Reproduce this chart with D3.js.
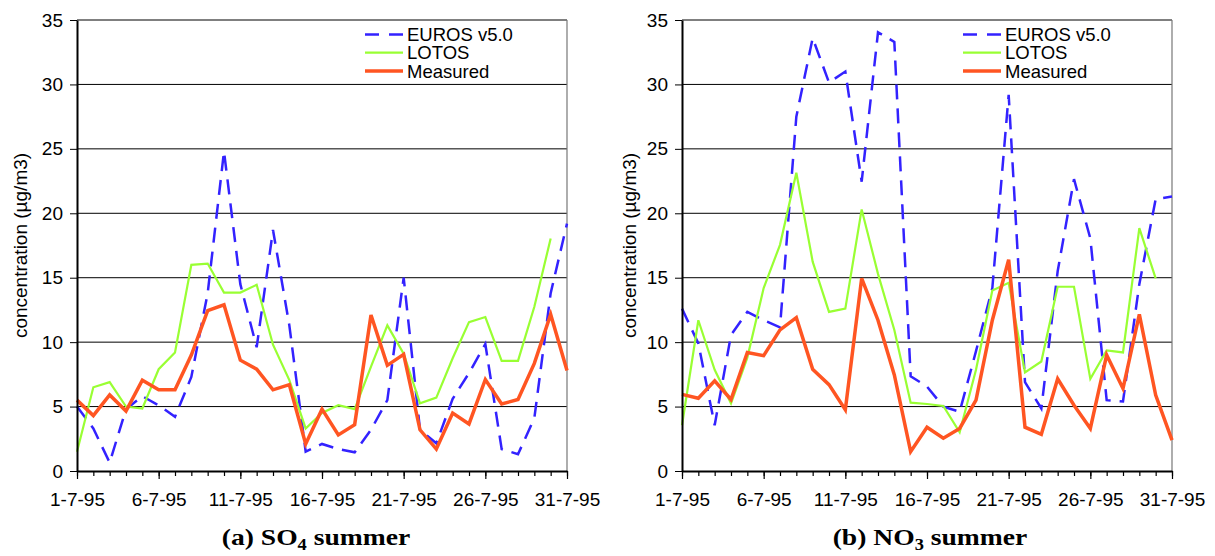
<!DOCTYPE html>
<html>
<head>
<meta charset="utf-8">
<script src="https://cdn.jsdelivr.net/npm/d3@7"></script>
<style>
  body { margin: 0; background: #fff; }
  svg text { font-family: "Liberation Sans", Arial, sans-serif; }
</style>
</head>
<body>
<div id="vis"></div>
<script>
// days of July 1995 (categories)
const days = d3.range(1, 32);
const labelDays = [1, 6, 11, 16, 21, 26, 31];
const dayLabels = ["1-7-95", "6-7-95", "11-7-95", "16-7-95", "21-7-95", "26-7-95", "31-7-95"];
const yTicks = [0, 5, 10, 15, 20, 25, 30, 35];
const seriesNames = ["EUROS v5.0", "LOTOS", "Measured"];

// (a) SO4 summer
const so4Euros = [5.0, 3.3, 0.65, 4.8, 5.8, 5.1, 4.2, 7.3, 13.8, 24.8, 14.5, 9.6, 18.7, 11.3, 1.5, 2.1,
  1.7, 1.45, 3.2, 5.5, 15.0, 3.2, 2.15, 5.6, 7.6, 9.85, 1.7, 1.3, 4.1, 13.8, 19.2];
const so4Lotos = [1.5, 6.5, 6.9, 5.0, 4.85, 7.9, 9.2, 16.0, 16.1, 13.85, 13.85, 14.45, 9.8, 7.05, 3.3, 4.5,
  5.1, 4.8, 8.1, 11.3, 9.1, 5.25, 5.7, 8.75, 11.55, 11.95, 8.55, 8.55, 12.75, 18.05];
const so4Measured = [5.5, 4.3, 5.9, 4.65, 7.05, 6.3, 6.3, 9.0, 12.45, 12.9, 8.6, 7.9, 6.3, 6.7, 2.1, 4.8,
  2.8, 3.6, 12.1, 8.2, 9.05, 3.2, 1.7, 4.5, 3.65, 7.1, 5.2, 5.55, 8.35, 12.15, 7.8];

// (b) NO3 summer
const no3Euros = [12.6, 9.9, 3.55, 10.55, 12.35, 11.7, 11.15, 27.5, 33.6, 30.15, 31.0, 22.45, 34.05, 33.3, 7.35, 6.55,
  5.0, 4.6, 9.3, 14.2, 29.2, 6.9, 4.85, 15.5, 22.65, 18.05, 5.5, 5.4, 14.5, 21.1, 21.3];
const no3Lotos = [3.55, 11.7, 7.85, 5.25, 8.8, 14.2, 17.55, 23.15, 16.25, 12.35, 12.6, 20.3, 15.3, 10.95, 5.3, 5.2,
  5.05, 3.0, 7.85, 14.0, 14.6, 7.65, 8.5, 14.3, 14.3, 7.15, 9.35, 9.2, 18.85, 14.95];
const no3Measured = [5.95, 5.65, 7.0, 5.55, 9.2, 8.95, 10.95, 11.9, 7.9, 6.7, 4.75, 14.95, 11.7, 7.45, 1.5, 3.4,
  2.55, 3.3, 5.5, 11.7, 16.4, 3.4, 2.85, 7.15, 5.1, 3.3, 9.0, 6.4, 12.15, 5.9, 2.4];

const styles = [
  { color: "#3322ff", width: 2.5, dash: "15,9" },
  { color: "#99ff33", width: 2.2, dash: null },
  { color: "#ff5522", width: 3.5, dash: null }
];

const W = 1215, H = 556;
const svg = d3.select("#vis").append("svg")
  .attr("width", W).attr("height", H)
  .style("background", "#fff");

const panels = [
  { left: 77, right: 567, series: [so4Euros, so4Lotos, so4Measured], legendX: 365, labelX: 27,
    caption: ["(a) SO", "4", " summer"], captionX: 316 },
  { left: 682, right: 1172, series: [no3Euros, no3Lotos, no3Measured], legendX: 963, labelX: 636,
    caption: ["(b) NO", "3", " summer"], captionX: 930 }
];

panels.forEach(drawPanel);

function drawPanel(p) {
  const x = d3.scaleLinear().domain([1, 31]).range([p.left, p.right]);
  const y = d3.scaleLinear().domain([0, 35]).range([471, 20]);
  const g = svg.append("g");

  // horizontal gridlines
  g.append("g").selectAll("line")
    .data(yTicks.filter(v => v > 0))
    .join("line")
    .attr("x1", p.left).attr("x2", p.right)
    .attr("y1", d => y(d)).attr("y2", d => y(d))
    .attr("stroke", "#000").attr("stroke-width", 1);

  // right border
  g.append("line")
    .attr("x1", p.right).attr("x2", p.right)
    .attr("y1", y(35)).attr("y2", y(0))
    .attr("stroke", "#777").attr("stroke-width", 1.2);

  // series lines
  p.series.forEach((vals, i) => {
    const line = d3.line().x((d, j) => x(days[j])).y(d => y(d));
    g.append("path")
      .datum(vals)
      .attr("d", line)
      .attr("fill", "none")
      .attr("stroke", styles[i].color)
      .attr("stroke-width", styles[i].width)
      .attr("stroke-dasharray", styles[i].dash)
      .attr("stroke-linejoin", "miter");
  });

  // x axis: minor ticks each day, major ticks with labels
  const xMinor = g.append("g")
    .attr("transform", `translate(0,${y(0)})`)
    .call(d3.axisBottom(x).tickValues(days).tickSize(5).tickFormat(""));
  xMinor.select(".domain").remove();
  const xMajor = g.append("g")
    .attr("transform", `translate(0,${y(0)})`)
    .call(d3.axisBottom(x).tickValues(labelDays).tickSize(8).tickSizeOuter(0).tickPadding(14)
      .tickFormat((d, i) => dayLabels[i]));
  xMajor.select(".domain").attr("stroke-width", 2);
  xMajor.selectAll("text").attr("font-size", 19).attr("fill", "#000")
    .style("font-family", '"Liberation Sans", Arial, sans-serif');
  g.selectAll(".tick line").attr("stroke", "#000").attr("stroke-width", 1.2);

  // y axis
  const yAxis = g.append("g")
    .attr("transform", `translate(${p.left},0)`)
    .call(d3.axisLeft(y).tickValues(yTicks).tickSize(7).tickSizeOuter(0).tickPadding(7));
  yAxis.select(".domain").attr("stroke-width", 2);
  yAxis.selectAll("text").attr("font-size", 19).attr("fill", "#000")
    .style("font-family", '"Liberation Sans", Arial, sans-serif');

  // y axis title
  g.append("text")
    .attr("transform", `translate(${p.labelX},${(y(0) + y(35)) / 2}) rotate(-90)`)
    .attr("text-anchor", "middle")
    .attr("font-size", 19)
    .text("concentration (µg/m3)");

  // legend
  const leg = g.append("g");
  seriesNames.forEach((name, i) => {
    const ly = 34.5 + i * 18.2;
    leg.append("line")
      .attr("x1", p.legendX).attr("x2", p.legendX + 38)
      .attr("y1", ly).attr("y2", ly)
      .attr("stroke", styles[i].color)
      .attr("stroke-width", styles[i].width)
      .attr("stroke-dasharray", i === 0 ? "14,10" : null);
    leg.append("text")
      .attr("x", p.legendX + 42).attr("y", ly)
      .attr("dy", "0.36em")
      .attr("font-size", 18.5)
      .text(name);
  });

  // caption
  const cap = g.append("text")
    .attr("transform", `translate(${p.captionX},545) scale(1.15,1)`)
    .attr("text-anchor", "middle")
    .style("font-family", '"Liberation Serif", "Times New Roman", serif')
    .attr("font-weight", "bold")
    .attr("font-size", 24);
  cap.append("tspan").text(p.caption[0]);
  cap.append("tspan").attr("font-size", 16).attr("dy", 5).text(p.caption[1]);
  cap.append("tspan").attr("dy", -5).text(p.caption[2]);
}
</script>
</body>
</html>
